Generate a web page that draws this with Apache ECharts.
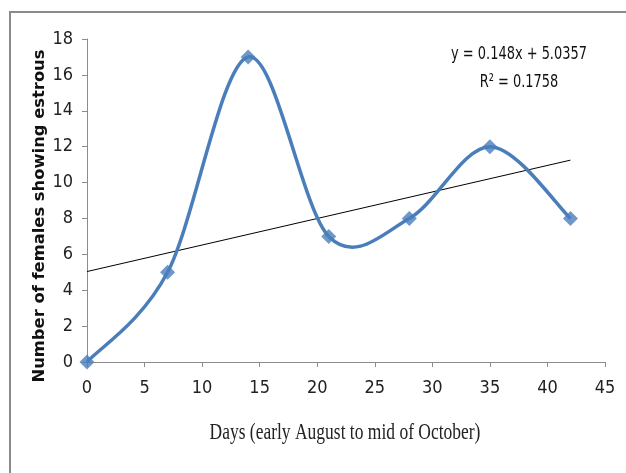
<!DOCTYPE html>
<html><head><meta charset="utf-8">
<script src="https://cdn.jsdelivr.net/npm/echarts@6/dist/echarts.min.js"></script>
<style>html,body{margin:0;padding:0;background:#fff}#c{width:626px;height:473px}</style>
</head><body><div id="c"></div>
<script>
var days = [0, 7, 14, 21, 28, 35, 42];
var females = [0, 5, 17, 7, 8, 12, 8];
var trendDays = [0, 42];
var trendValues = [5.04, 11.25];
var xTicks = [0, 45, 5];
var yTicks = [0, 18, 2];
var equationText = 'y = 0.148x + 5.0357';
var r2Text = 'R\u00b2 = 0.1758';
var xTitle = 'Days (early August to mid of October)';
var yTitle = 'Number of females showing estrous';

var chart = echarts.init(document.getElementById('c'), null, {renderer: 'canvas'});
var narrow = "'DejaVu Sans Condensed','Liberation Sans',sans-serif";
var blue = '#4a7ebb';

function segment(params, api) {
  var i = params.dataIndex;
  var n = days.length;
  if (i >= n - 1) return null;
  var p = function (k) {
    k = Math.max(0, Math.min(n - 1, k));
    return api.coord([days[k], females[k]]);
  };
  var p0 = p(i - 1), p1 = p(i), p2 = p(i + 1), p3 = p(i + 2);
  var c1 = [p1[0] + (p2[0] - p0[0]) / 6, p1[1] + (p2[1] - p0[1]) / 6];
  var c2 = [p2[0] - (p3[0] - p1[0]) / 6, p2[1] - (p3[1] - p1[1]) / 6];
  return {
    type: 'bezierCurve',
    shape: {x1: p1[0], y1: p1[1], x2: p2[0], y2: p2[1], cpx1: c1[0], cpy1: c1[1], cpx2: c2[0], cpy2: c2[1]},
    style: {stroke: blue, lineWidth: 3.5, fill: 'none'}
  };
}

chart.setOption({
  animation: false,
  backgroundColor: '#fff',
  grid: {left: 87, right: 21, top: 39, bottom: 111, containLabel: false},
  xAxis: {
    type: 'value', min: xTicks[0], max: xTicks[1], interval: xTicks[2],
    axisLine: {lineStyle: {color: '#8c8c8c', width: 1}},
    axisTick: {show: true, length: 5, lineStyle: {color: '#8c8c8c'}},
    splitLine: {show: false},
    axisLabel: {color: '#222', fontSize: 18, fontFamily: narrow, margin: 17}
  },
  yAxis: {
    type: 'value', min: yTicks[0], max: yTicks[1], interval: yTicks[2],
    axisLine: {show: true, lineStyle: {color: '#8c8c8c', width: 1}},
    axisTick: {show: true, length: 5, lineStyle: {color: '#8c8c8c'}},
    splitLine: {show: false},
    axisLabel: {color: '#222', fontSize: 18, fontFamily: narrow, margin: 14}
  },
  graphic: [
    {type: 'rect', shape: {x: 10, y: 12, width: 640, height: 480}, style: {fill: 'none', stroke: '#8a8a8a', lineWidth: 2}, z: -1},
    {type: 'text', x: 519, y: 54, scaleX: 0.8,
      style: {text: equationText, fill: '#111', align: 'center', verticalAlign: 'middle', font: "18px 'DejaVu Sans Condensed','Liberation Sans',sans-serif"}},
    {type: 'text', x: 519, y: 82, scaleX: 0.8,
      style: {text: r2Text, fill: '#111', align: 'center', verticalAlign: 'middle', font: "18px 'DejaVu Sans Condensed','Liberation Sans',sans-serif"}},
    {type: 'text', x: 345, y: 433, scaleX: 0.76,
      style: {text: xTitle, fill: '#222', align: 'center', verticalAlign: 'middle', font: "23px 'Liberation Serif',serif"}},
    {type: 'text', x: 40, y: 216, rotation: Math.PI / 2, scaleX: 1.09,
      style: {text: yTitle, fill: '#111', align: 'center', verticalAlign: 'middle', font: "bold 15px 'DejaVu Sans','Liberation Sans',sans-serif"}}
  ],
  series: [
    {
      type: 'line', data: trendDays.map(function (d, i) { return [d, trendValues[i]]; }),
      symbol: 'none', lineStyle: {color: '#000', width: 1}, z: 1, silent: true
    },
    {
      type: 'custom', renderItem: segment,
      data: days.map(function (d, i) { return [d, females[i]]; }), z: 2, silent: true
    },
    {
      type: 'scatter', data: days.map(function (d, i) { return [d, females[i]]; }),
      symbol: 'diamond', symbolSize: 15,
      itemStyle: {color: blue, borderWidth: 0}, z: 3
    }
  ]
});
</script></body></html>
